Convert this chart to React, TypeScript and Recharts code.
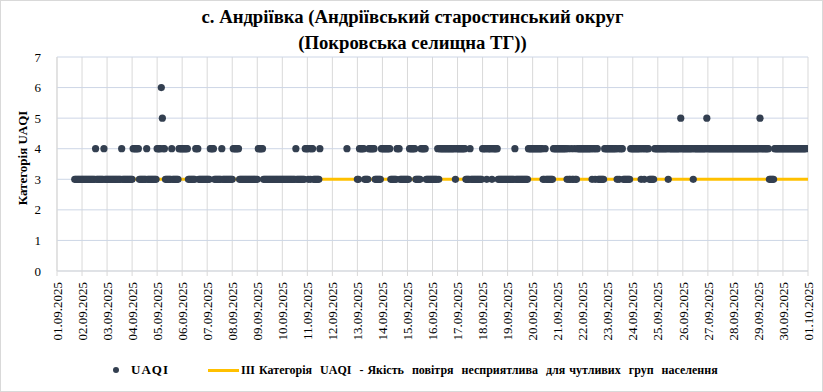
import React from 'react';
import { ComposedChart, Scatter, Line, XAxis, YAxis, CartesianGrid } from 'recharts';

// Date labels for the x axis (one per day, 00:00)
const dayLabels: string[] = [
  '01.09.2025', '02.09.2025', '03.09.2025', '04.09.2025', '05.09.2025', '06.09.2025',
  '07.09.2025', '08.09.2025', '09.09.2025', '10.09.2025', '11.09.2025', '12.09.2025',
  '13.09.2025', '14.09.2025', '15.09.2025', '16.09.2025', '17.09.2025', '18.09.2025',
  '19.09.2025', '20.09.2025', '21.09.2025', '22.09.2025', '23.09.2025', '24.09.2025',
  '25.09.2025', '26.09.2025', '27.09.2025', '28.09.2025', '29.09.2025', '30.09.2025',
  '01.10.2025',
];

// Hourly UAQI category, one string of 24 hours per day ('.' = no data)
const week1: string[] = [
  '.................3333333',
  '333333333333343333333433',
  '333333333333334333333333',
  '344444433333334333333333',
  '444465443333334333333444',
  '444444333333344433333333',
  '333444433333334333333333',
];
const week2: string[] = [
  '344444433333333333333333',
  '344444333333333333333333',
  '333333333333343333333344',
  '4343443333334...........',
  '..............4.........',
  '334444433334444443333334',
  '444444443333334443333333',
];
const week3: string[] = [
  '334444443333344444333333',
  '333334344444444444444434',
  '444444443333433333333333',
  '444434444344444333333333',
  '333333343333333333334444',
  '444444444433433333334444',
  '444444444343343343344444',
];
const week4: string[] = [
  '444444444344344333333444',
  '444444444343444333333344',
  '444444443443444433333444',
  '444444444434444444444454',
  '444444444434444444444445',
  '444444444444444444444444',
  '444444444444444444444444',
  '445444444443333344444444',
  '444444444444444444444444',
];

const thresholdLevel = 3;
const thresholdStartHour = 17;
const thresholdEndHour = 720;

const allDays = [...week1, ...week2, ...week3, ...week4];
const uaqiData: { t: number; uaqi: number }[] = [];
allDays.forEach((day, d) => {
  for (let h = 0; h < day.length; h++) {
    const c = day[h];
    if (c !== '.') uaqiData.push({ t: d * 24 + h, uaqi: Number(c) });
  }
});
const lineData = [
  { t: thresholdStartHour, level: thresholdLevel },
  { t: thresholdEndHour, level: thresholdLevel },
];
const xTicks = dayLabels.map((_, i) => i * 24);

const serif = '"Liberation Serif", "Times New Roman", serif';

const DateTick = (props: any) => {
  const { x, y, payload } = props;
  const label = dayLabels[Math.round(payload.value / 24)];
  return (
    <text
      x={x}
      y={y + 4}
      transform={`rotate(-90, ${x}, ${y + 4})`}
      textAnchor="end"
      dy="0.36em"
      fontFamily={serif}
      fontSize={13}
      fill="#000"
    >
      {label}
    </text>
  );
};

const Dot = (props: any) => {
  const { cx, cy } = props;
  if (cx == null || cy == null) return null;
  return <circle cx={cx} cy={cy} r={3.6} fill="#333F50" />;
};

export default function App() {
  return (
    <div
      style={{
        position: 'absolute',
        left: 0,
        top: 0,
        width: 823,
        height: 392,
        boxSizing: 'border-box',
        border: '1px solid #d9d9d9',
        background: '#fff',
        fontFamily: serif,
      }}
    >
      <div
        style={{
          position: 'absolute',
          left: 0,
          width: 823,
          top: 3,
          textAlign: 'center',
          fontWeight: 'bold',
          fontSize: 18.7,
          lineHeight: '26px',
          color: '#000',
        }}
      >
        <div>с. Андріївка (Андріївський старостинський округ</div>
        <div>(Покровська селищна ТГ))</div>
      </div>
      <div
        style={{
          position: 'absolute',
          left: 22,
          top: 157,
          transform: 'translate(-50%, -50%) rotate(-90deg)',
          whiteSpace: 'nowrap',
          fontWeight: 'bold',
          fontSize: 13,
          color: '#000',
        }}
      >
        Категорія UAQI
      </div>
      <div style={{ position: 'absolute', left: 0, top: 0 }}>
        <ComposedChart
          width={821}
          height={390}
          margin={{ top: 56, right: 14, bottom: 40, left: 26 }}
        >
          <CartesianGrid horizontal={false} stroke="#d9d9d9" strokeWidth={1} />
          <CartesianGrid vertical={false} stroke="#cdd6e6" strokeWidth={1} />
          <XAxis
            dataKey="t"
            type="number"
            domain={[0, 720]}
            ticks={xTicks}
            interval={0}
            height={80}
            tick={<DateTick />}
            tickSize={5}
            tickLine={{ stroke: '#d9d9d9' }}
            axisLine={{ stroke: '#d9d9d9' }}
            allowDataOverflow
          />
          <YAxis
            type="number"
            domain={[0, 7]}
            ticks={[0, 1, 2, 3, 4, 5, 6, 7]}
            width={30}
            tickLine={false}
            axisLine={{ stroke: '#d9d9d9' }}
            tickMargin={10}
            tick={{ fontFamily: serif, fontSize: 13, fill: '#000' }}
          />
          <Line
            data={lineData}
            dataKey="level"
            type="linear"
            stroke="#FFC000"
            strokeWidth={3}
            dot={false}
            activeDot={false}
            isAnimationActive={false}
          />
          <Scatter
            data={uaqiData}
            dataKey="uaqi"
            shape={<Dot />}
            isAnimationActive={false}
          />
        </ComposedChart>
      </div>
      <div
        style={{
          position: 'absolute',
          left: 0,
          top: 360,
          width: 823,
          height: 18,
          fontWeight: 'bold',
          fontSize: 13,
          color: '#000',
        }}
      >
        <div
          style={{
            position: 'absolute',
            left: 112,
            top: 6,
            width: 6,
            height: 6,
            borderRadius: 3,
            background: '#333F50',
          }}
        />
        <div style={{ position: 'absolute', left: 130, top: 0, lineHeight: '18px', letterSpacing: 1 }}>UAQI</div>
        <div
          style={{
            position: 'absolute',
            left: 207,
            top: 8,
            width: 31,
            height: 3,
            background: '#FFC000',
          }}
        />
        <div
          style={{
            position: 'absolute',
            left: 240,
            top: 0,
            lineHeight: '18px',
            whiteSpace: 'pre',
            fontSize: 12,
            wordSpacing: 1,
          }}
        >
          ІІІ Категорія  UAQI  - Якість  повітря  несприятлива  для чутливих  груп  населення
        </div>
      </div>
    </div>
  );
}
